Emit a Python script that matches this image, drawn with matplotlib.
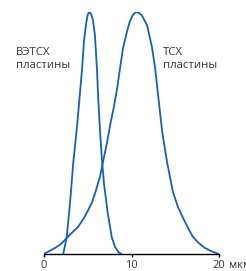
import matplotlib
matplotlib.use("Agg")
import matplotlib.pyplot as plt

# particle size distribution (x in мкм, y normalised)
hptlc_x = [2.2, 2.6, 2.97, 3.35, 3.73, 4.0, 4.34, 4.57, 4.8, 5.0, 5.2, 5.4,
           5.6, 5.83, 6.06, 6.2, 6.4, 6.6, 6.86, 7.28, 7.74, 8.11, 8.46, 8.8]
hptlc_y = [0.0, 0.07, 0.21, 0.38, 0.51, 0.62, 0.76, 0.88, 0.95, 0.99, 1.0,
           0.99, 0.965, 0.9, 0.76, 0.64, 0.51, 0.40, 0.29, 0.17, 0.07, 0.03,
           0.01, 0.0]

tlc_x = [0.0, 0.5, 1.26, 1.9, 2.6, 3.2, 3.89, 4.5, 5.03, 5.5, 5.83, 6.4,
         6.74, 7.2, 7.54, 8.0, 8.34, 8.7, 9.03, 9.49, 9.8, 10.1, 10.5, 10.9,
         11.2, 11.77, 12.34, 12.69, 13.03, 13.49, 14.06, 14.74, 15.3, 15.89,
         16.5, 17.03, 17.7, 18.4, 19.1, 19.6, 20.0]
tlc_y = [0.0, 0.01, 0.025, 0.04, 0.066, 0.088, 0.112, 0.145, 0.18, 0.215,
         0.25, 0.32, 0.38, 0.46, 0.53, 0.61, 0.68, 0.77, 0.85, 0.92, 0.96,
         0.985, 1.0, 0.995, 0.985, 0.946, 0.855, 0.77, 0.66, 0.51, 0.38,
         0.256, 0.195, 0.149, 0.105, 0.07, 0.045, 0.025, 0.012, 0.005, 0.0]

ticks = [0, 10, 20]
tick_labels = ["0", "10", "20"]
unit = "мкм"

blue = "#1560b8"
txt = "#333333"
plt.rcParams["font.family"] = ["Open Sans", "DejaVu Sans"]

fig = plt.figure(figsize=(2.46, 2.71), dpi=100)
ax = fig.add_axes([44/246, 17/271, 175/246, 242/271])

ax.plot(hptlc_x, hptlc_y, color=blue, lw=1.3, solid_joinstyle="round",
        solid_capstyle="round")
ax.plot(tlc_x, tlc_y, color=blue, lw=1.3, solid_joinstyle="round",
        solid_capstyle="round")

ax.set_xlim(0, 20)
ax.set_ylim(0, 1)
for s in ["left", "right", "top"]:
    ax.spines[s].set_visible(False)
ax.spines["bottom"].set_linewidth(1.0)
ax.set_yticks([])
ax.set_xticks(ticks)
ax.set_xticklabels(tick_labels)
ax.tick_params(axis="x", length=2.2, width=1.0, pad=2.0, labelsize=8,
               labelcolor=txt)

# unit after the last tick label
ax.annotate(unit, xy=(21.2, 0), xycoords=("data", "axes fraction"),
            xytext=(0, -4.2), textcoords="offset points",
            fontsize=8, color=txt, va="top", ha="left", annotation_clip=False)

fig.text(16/246, 1 - 55/271, "ВЭТСХ", fontsize=8.2, color=txt, va="baseline")
fig.text(16/246, 1 - 68/271, "пластины", fontsize=8.2, color=txt, va="baseline")
fig.text(163/246, 1 - 55/271, "ТСХ", fontsize=8.2, color=txt, va="baseline")
fig.text(163/246, 1 - 68/271, "пластины", fontsize=8.2, color=txt, va="baseline")

fig.savefig("out.png", dpi=100)
